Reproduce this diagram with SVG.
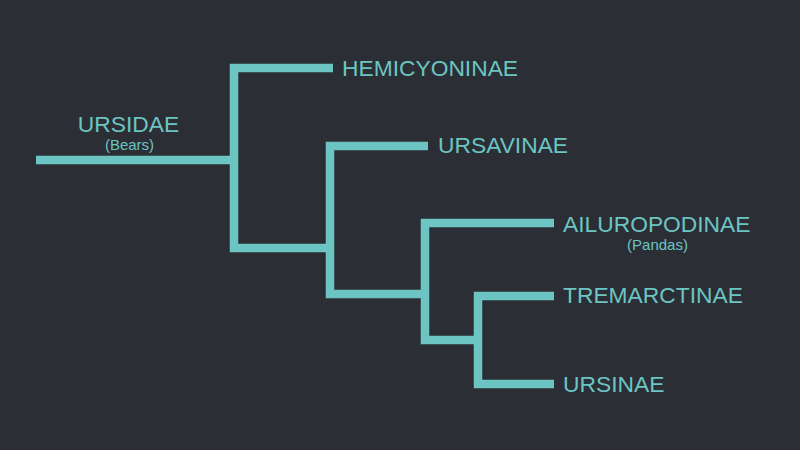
<svg xmlns="http://www.w3.org/2000/svg" width="800" height="450" viewBox="0 0 800 450">
<style>
.br{fill:none;stroke:#6cc5c3;stroke-width:8.5;stroke-linecap:butt;stroke-linejoin:miter}
.t{font-family:"Liberation Sans",Arial,sans-serif;fill:#6cc5c3;font-size:22.8px}
.s{font-family:"Liberation Sans",Arial,sans-serif;fill:#6cc5c3;font-size:15px;text-anchor:middle}
</style>
<rect width="800" height="450" fill="#2b2e34"/>
<g id="connectors">
<path class="br" d="M36,160 H234"/>
<path class="br" d="M333,68 H234 V248 H330"/>
<path class="br" d="M428,146 H330 V294 H425"/>
<path class="br" d="M554,223 H425 V340 H478"/>
<path class="br" d="M554,296 H478 V384 H554"/>
</g>
<g id="ursidae">
<text class="t" x="128.5" y="132" text-anchor="middle">URSIDAE</text>
<text class="s" x="129.5" y="150">(Bears)</text>
</g>
<g id="hemicyoninae"><text class="t" x="342" y="76">HEMICYONINAE</text></g>
<g id="ursavinae"><text class="t" x="438" y="153">URSAVINAE</text></g>
<g id="ailuropodinae">
<text class="t" x="563" y="232">AILUROPODINAE</text>
<text class="s" x="657.5" y="250">(Pandas)</text>
</g>
<g id="tremarctinae"><text class="t" x="563" y="303">TREMARCTINAE</text></g>
<g id="ursinae"><text class="t" x="563" y="392">URSINAE</text></g>
</svg>
